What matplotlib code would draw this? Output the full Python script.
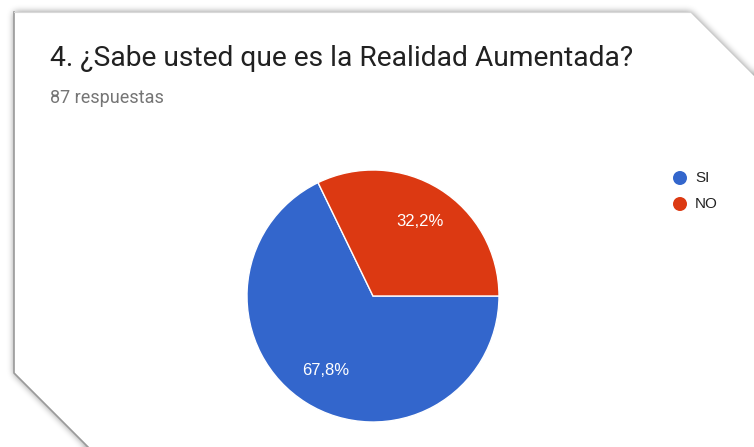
import numpy as np
import matplotlib
matplotlib.use('Agg')
import matplotlib.pyplot as plt
from matplotlib.path import Path
from matplotlib.patches import Polygon, Circle

W, H = 754, 447

title = '4. ¿Sabe usted que es la Realidad Aumentada?'
subtitle = '87 respuestas'
labels = ['SI', 'NO']
counts = [59, 28]
colors = ['#3366CC', '#DC3912']


def box_blur(img, r, passes=3):
    # repeated box blur ~ gaussian, separable
    k = np.ones(2 * r + 1) / (2 * r + 1)
    out = img.copy()
    for _ in range(passes):
        out = np.apply_along_axis(lambda v: np.convolve(np.pad(v, r, mode='edge'), k, mode='valid'), 1, out)
        out = np.apply_along_axis(lambda v: np.convolve(np.pad(v, r, mode='edge'), k, mode='valid'), 0, out)
    return out


fig = plt.figure(figsize=(W / 100, H / 100), dpi=100)
fig.patch.set_facecolor('white')

# card background with cut corners and soft shadow (pixel coordinates)
bg = fig.add_axes([0, 0, 1, 1])
bg.set_xlim(0, W)
bg.set_ylim(H, 0)
bg.axis('off')

card = [(14, 12), (690, 12), (760, 82), (760, 460), (101, 460), (14, 373)]
yy, xx = np.mgrid[0:H, 0:W]
mask = Path(card).contains_points(np.c_[xx.ravel() + 0.5, yy.ravel() + 0.5]).reshape(H, W).astype(float)
shadow = box_blur(mask, 3)
shade = np.zeros((H, W, 4))
shade[..., 3] = np.clip(shadow, 0, 1) * 0.45
bg.imshow(shade, extent=(0, W, H, 0), interpolation='bilinear', zorder=1)
bg.add_patch(Polygon(card, closed=True, facecolor='white', edgecolor='none', zorder=2))
bg.plot([14, 14, 101], [12, 373, 460], color='#9a9a9a', lw=1.2, zorder=3)
bg.plot([14, 690], [12, 12], color='#d8d8d8', lw=0.8, zorder=3)

bg.text(50, 58, title, fontsize=20.3, family='Roboto', color='#212121', va='center', ha='left', zorder=4)
bg.text(50, 98, subtitle, fontsize=13, family='Roboto', color='#757575', va='center', ha='left', zorder=4)

# legend
for i, (lab, col) in enumerate(zip(labels, colors)):
    y = 178 + i * 26
    bg.add_patch(Circle((680, y), 7, facecolor=col, edgecolor='none', zorder=4))
    bg.text(695, y, lab, fontsize=11, family='Liberation Sans', color='#222222', va='center', ha='left', zorder=4)

# pie
cx, cy, r = 373, 296, 126
ax = fig.add_axes([(cx - r) / W, (H - cy - r) / H, 2 * r / W, 2 * r / H])
ax.set_zorder(5)
total = sum(counts)
wedges, _, autotexts = ax.pie(counts, colors=colors, startangle=360 * counts[1] / total, counterclock=True,
                              autopct=lambda p: f'{p:.1f}%'.replace('.', ','), pctdistance=0.7,
                              wedgeprops=dict(edgecolor='white', linewidth=1))
for t in autotexts:
    t.set_color('white')
    t.set_fontsize(12)
    t.set_family('Liberation Sans')
ax.set_xlim(-1, 1)
ax.set_ylim(-1, 1)

fig.savefig('out.png', dpi=100, facecolor='white')
